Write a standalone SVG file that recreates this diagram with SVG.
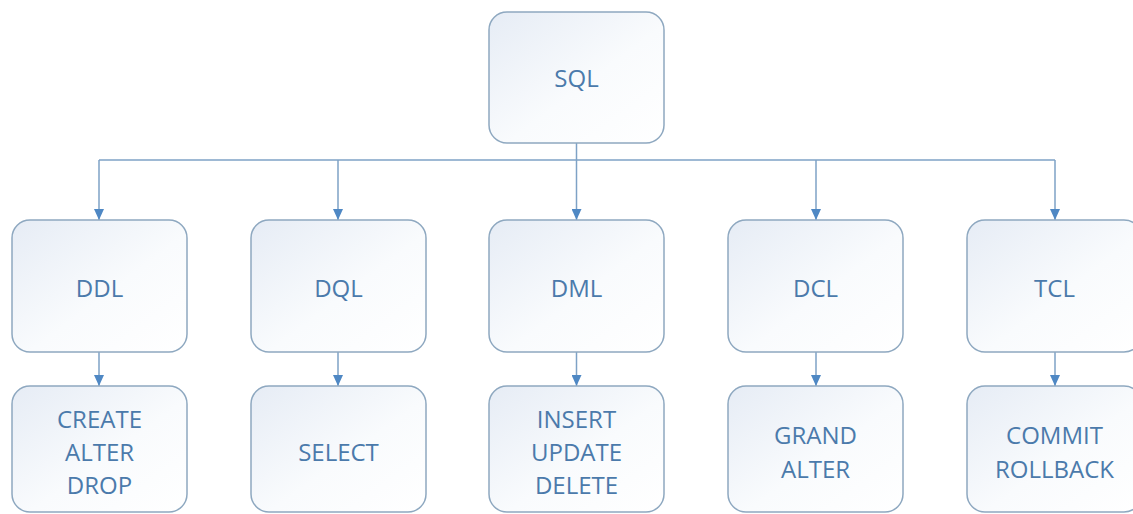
<svg xmlns="http://www.w3.org/2000/svg" width="1133" height="514" viewBox="0 0 1133 514">
  <style>
    .box { fill: url(#g); stroke: #8ea8c0; stroke-width: 1.5; }
    .lbl { font-family: "Open Sans", "Noto Sans", sans-serif; font-size: 24px; fill: #4b7aab; text-anchor: middle; dominant-baseline: central; }
    .conn { stroke: #7ea2c6; stroke-width: 1.5; fill: none; }
  </style>
  <defs>
    <linearGradient id="g" x1="0" y1="0" x2="1" y2="1">
      <stop offset="0" stop-color="#e6ecf5"/>
      <stop offset="0.55" stop-color="#f9fbfd"/>
      <stop offset="1" stop-color="#ffffff"/>
    </linearGradient>
    <marker id="arr" markerWidth="12" markerHeight="10" refX="11" refY="5" orient="auto" markerUnits="userSpaceOnUse">
      <path d="M0,0 L11,5 L0,10 Z" fill="#4f88c4"/>
    </marker>
  </defs>
  <rect width="1133" height="514" fill="#ffffff"/>

  <g id="connectors">
    <path class="conn" d="M576.5,143 V160"/>
    <path class="conn" d="M99,160 H1055"/>
    <path class="conn" d="M99,160 V220" marker-end="url(#arr)"/>
    <path class="conn" d="M338,160 V220" marker-end="url(#arr)"/>
    <path class="conn" d="M576.5,160 V220" marker-end="url(#arr)"/>
    <path class="conn" d="M816,160 V220" marker-end="url(#arr)"/>
    <path class="conn" d="M1055,160 V220" marker-end="url(#arr)"/>
    <path class="conn" d="M99,352 V386" marker-end="url(#arr)"/>
    <path class="conn" d="M338,352 V386" marker-end="url(#arr)"/>
    <path class="conn" d="M576.5,352 V386" marker-end="url(#arr)"/>
    <path class="conn" d="M816,352 V386" marker-end="url(#arr)"/>
    <path class="conn" d="M1055,352 V386" marker-end="url(#arr)"/>
  </g>

  <g id="sql">
    <rect class="box" x="489" y="12" width="175" height="131" rx="18"/>
    <text class="lbl" x="576.5" y="77">SQL</text>
  </g>

  <g id="ddl">
    <rect class="box" x="12" y="220" width="175" height="132" rx="18"/>
    <text class="lbl" x="99.5" y="287">DDL</text>
  </g>
  <g id="dql">
    <rect class="box" x="251" y="220" width="175" height="132" rx="18"/>
    <text class="lbl" x="338.5" y="287">DQL</text>
  </g>
  <g id="dml">
    <rect class="box" x="489" y="220" width="175" height="132" rx="18"/>
    <text class="lbl" x="576.5" y="287">DML</text>
  </g>
  <g id="dcl">
    <rect class="box" x="728" y="220" width="175" height="132" rx="18"/>
    <text class="lbl" x="815.5" y="287">DCL</text>
  </g>
  <g id="tcl">
    <rect class="box" x="967" y="220" width="175" height="132" rx="18"/>
    <text class="lbl" x="1054.5" y="287">TCL</text>
  </g>

  <g id="ddl-cmds">
    <rect class="box" x="12" y="386" width="175" height="126" rx="18"/>
    <text class="lbl" x="99.5" y="418">CREATE</text>
    <text class="lbl" x="99.5" y="451">ALTER</text>
    <text class="lbl" x="99.5" y="484">DROP</text>
  </g>
  <g id="dql-cmds">
    <rect class="box" x="251" y="386" width="175" height="126" rx="18"/>
    <text class="lbl" x="338.5" y="451">SELECT</text>
  </g>
  <g id="dml-cmds">
    <rect class="box" x="489" y="386" width="175" height="126" rx="18"/>
    <text class="lbl" x="576.5" y="418">INSERT</text>
    <text class="lbl" x="576.5" y="451">UPDATE</text>
    <text class="lbl" x="576.5" y="484">DELETE</text>
  </g>
  <g id="dcl-cmds">
    <rect class="box" x="728" y="386" width="175" height="126" rx="18"/>
    <text class="lbl" x="815.5" y="434">GRAND</text>
    <text class="lbl" x="815.5" y="468">ALTER</text>
  </g>
  <g id="tcl-cmds">
    <rect class="box" x="967" y="386" width="175" height="126" rx="18"/>
    <text class="lbl" x="1054.5" y="434">COMMIT</text>
    <text class="lbl" x="1054.5" y="468">ROLLBACK</text>
  </g>
</svg>
